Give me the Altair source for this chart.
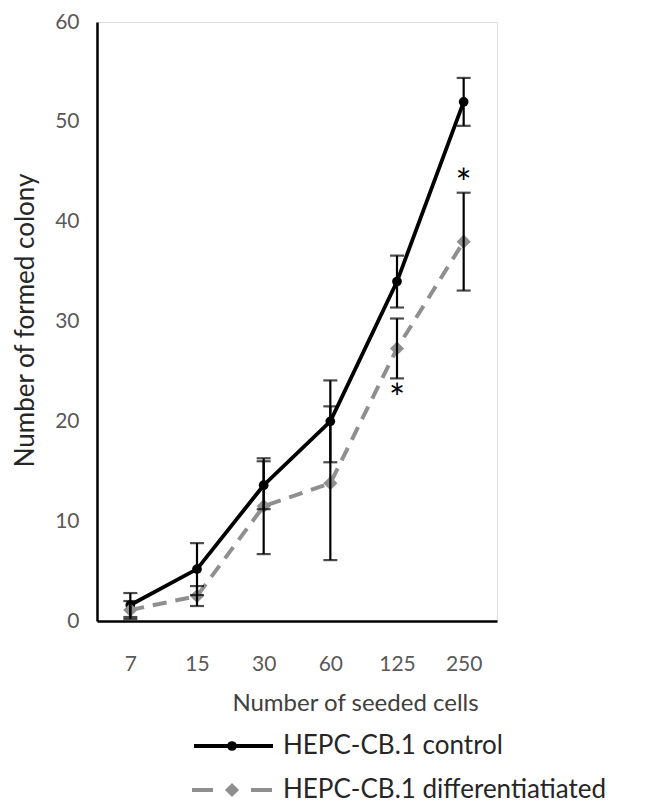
import altair as alt
import pandas as pd

# ---- data ----
cells = ["7", "15", "30", "60", "125", "250"]
control_mean = [1.6, 5.2, 13.6, 20.0, 34.0, 52.0]
control_err = [1.2, 2.6, 2.4, 4.1, 2.6, 2.4]
diff_mean = [1.1, 2.5, 11.5, 13.8, 27.3, 38.0]
diff_err = [0.9, 1.0, 4.8, 7.7, 3.0, 4.9]
series_names = ["HEPC-CB.1 control", "HEPC-CB.1 differentiatiated"]
star_cells = ["125", "250"]
star_values = [23.2, 44.8]

rows = []
for name, means, errs in [(series_names[0], control_mean, control_err),
                          (series_names[1], diff_mean, diff_err)]:
    for c, m, e in zip(cells, means, errs):
        rows.append({"cells": c, "series": name, "mean": m, "lo": m - e, "hi": m + e})
df = pd.DataFrame(rows)
stars = pd.DataFrame({"cells": star_cells, "v": star_values, "t": ["*", "*"]})
legend_df = pd.DataFrame({"series": series_names})

FONT = "Lato"
W, H = 400, 599
GRAY = "#8f8f8f"

x_axis = alt.Axis(title="Number of seeded cells", labelAngle=0, ticks=False,
                  labelPadding=32, labelFontSize=21, labelFont=FONT, labelColor="#595959",
                  titleFont=FONT, titleFontSize=24, titleFontWeight="normal", titleColor="#404040",
                  titleX=258, titleY=82, titleBaseline="middle", titleAlign="center",
                  domainColor="black", domainWidth=2.5, grid=False)
y_axis = alt.Axis(title="Number of formed colony", values=[0, 10, 20, 30, 40, 50, 60],
                  ticks=False, labelPadding=18, labelFontSize=21, labelFont=FONT,
                  labelColor="#595959", titleFont=FONT, titleFontSize=26,
                  titleFontWeight="normal", titleColor="#262626",
                  titleX=-85, titleY=298, titleAngle=-90, titleBaseline="top",
                  titleAlign="center", domainColor="black", domainWidth=2.5, grid=False)

xs = alt.Scale(type="point", padding=0.5, domain=cells)
ys = alt.Scale(domain=[0, 60], nice=False)

X = alt.X("cells:O", sort=cells, scale=xs, axis=x_axis)

def Y(field):
    return alt.Y(f"{field}:Q", scale=ys, axis=y_axis)

base = alt.Chart(df)
ctrl = base.transform_filter(alt.datum.series == series_names[0])
diff = base.transform_filter(alt.datum.series == series_names[1])

ctrl_line = ctrl.mark_line(color="black", strokeWidth=3.8).encode(x=X, y=Y("mean"))
ctrl_pts = ctrl.mark_point(shape="circle", filled=True, size=95, color="black", opacity=1).encode(x=X, y=Y("mean"))
diff_line = diff.mark_line(color=GRAY, strokeWidth=4, strokeDash=[14, 9]).encode(x=X, y=Y("mean"))
diff_pts = diff.mark_point(shape="diamond", filled=True, size=200, color=GRAY, opacity=1).encode(x=X, y=Y("mean"))

err_rule = base.mark_rule(color="black", strokeWidth=2.2).encode(x=X, y=Y("lo"), y2="hi:Q")
cap_lo = base.mark_tick(color="black", size=14, thickness=2.2, orient="horizontal").encode(x=X, y=Y("lo"))
cap_hi = base.mark_tick(color="black", size=14, thickness=2.2, orient="horizontal").encode(x=X, y=Y("hi"))

star_txt = alt.Chart(stars).mark_text(font=FONT, fontSize=38, color="black", baseline="middle", dy=12).encode(
    x=X, y=alt.Y("v:Q", scale=ys, axis=y_axis), text="t:N")

# ---- legend (drawn below the plot) ----
leg0 = alt.Chart(legend_df).transform_filter(alt.datum.series == series_names[0])
leg1 = alt.Chart(legend_df).transform_filter(alt.datum.series == series_names[1])
L_X0, L_X1, L_MID, L_TXT = 97, 176, 135, 186
R0, R1 = 724, 768
leg_line0 = leg0.mark_rule(color="black", strokeWidth=3.8).encode(
    x=alt.value(L_X0), x2=alt.value(L_X1), y=alt.value(R0))
leg_pt0 = leg0.mark_point(shape="circle", filled=True, size=95, color="black", opacity=1).encode(
    x=alt.value(L_MID), y=alt.value(R0))
leg_txt0 = leg0.mark_text(font=FONT, fontSize=26, color="#262626", align="left", baseline="middle").encode(
    x=alt.value(L_TXT), y=alt.value(R0), text="series:N")
leg_line1 = leg1.mark_rule(color=GRAY, strokeWidth=4, strokeDash=[21, 38]).encode(
    x=alt.value(L_X0 - 2), x2=alt.value(L_X1), y=alt.value(R1))
leg_pt1 = leg1.mark_point(shape="diamond", filled=True, size=200, color=GRAY, opacity=1).encode(
    x=alt.value(L_MID), y=alt.value(R1))
leg_txt1 = leg1.mark_text(font=FONT, fontSize=26, color="#262626", align="left", baseline="middle").encode(
    x=alt.value(L_TXT), y=alt.value(R1), text="series:N")

chart = alt.layer(
    ctrl_line, ctrl_pts, diff_line, diff_pts, err_rule, cap_lo, cap_hi, star_txt,
    leg_line0, leg_pt0, leg_txt0, leg_line1, leg_pt1, leg_txt1,
).properties(
    width=W, height=H,
    autosize=alt.AutoSizeParams(type="none"),
    padding={"left": 89, "top": 14, "right": 140, "bottom": 183},
).configure_view(stroke=None).configure(background="white")

chart.save("out.html", embed_options={"renderer": "svg", "actions": False})
